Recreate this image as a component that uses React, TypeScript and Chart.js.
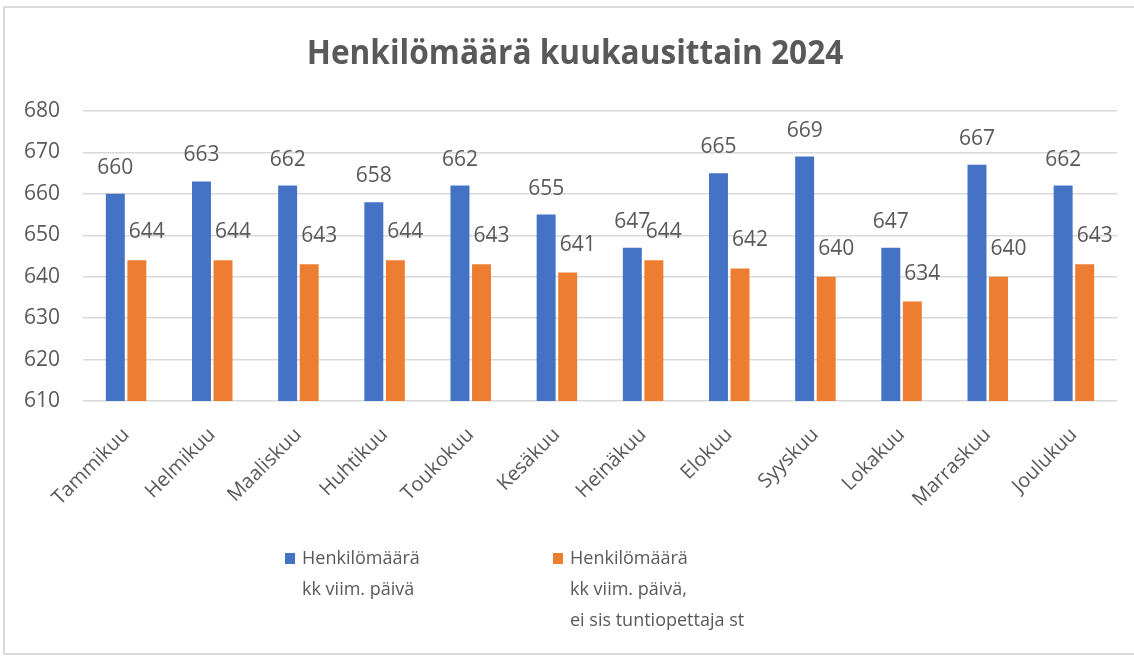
import React, { useEffect, useRef } from "react";
import { Chart, registerables } from "chart.js";

Chart.register(...registerables);

const chartTitle = "Henkilömäärä kuukausittain 2024";
const categories = [
  "Tammikuu", "Helmikuu", "Maaliskuu", "Huhtikuu", "Toukokuu", "Kesäkuu",
  "Heinäkuu", "Elokuu", "Syyskuu", "Lokakuu", "Marraskuu", "Joulukuu",
];
const staffTotal = [660, 663, 662, 658, 662, 655, 647, 665, 669, 647, 667, 662];
const staffExclHourly = [644, 644, 643, 644, 643, 641, 644, 642, 640, 634, 640, 643];
const seriesNames = [
  "Henkilömäärä kk viim. päivä",
  "Henkilömäärä kk viim. päivä, ei sis tuntiopettaja st",
];
const legendLines = [
  ["Henkilömäärä", "kk viim. päivä"],
  ["Henkilömäärä", "kk viim. päivä,", "ei sis tuntiopettaja st"],
];
const yMin = 610;
const yMax = 680;
const yStep = 10;

const BLUE = "#4472C4";
const ORANGE = "#ED7D31";
const TEXT = "#595959";
const FONT = "'Open Sans', 'DejaVu Sans', sans-serif";

const titlePlugin = {
  id: "customTitle",
  afterDraw(chart: any) {
    const ctx = chart.ctx;
    ctx.save();
    ctx.font = `bold 34px ${FONT}`;
    ctx.fillStyle = TEXT;
    ctx.textAlign = "center";
    ctx.textBaseline = "middle";
    ctx.translate(575, 54);
    ctx.scale(0.93, 1);
    ctx.fillText(chartTitle, 0, 0);
    ctx.restore();
  },
};

const labelPlugin = {
  id: "valueLabels",
  afterDatasetsDraw(chart: any) {
    const ctx = chart.ctx;
    const dx = [0, 10];
    const dy = [26, 28];
    ctx.save();
    ctx.font = `21px ${FONT}`;
    ctx.fillStyle = TEXT;
    ctx.textAlign = "center";
    ctx.textBaseline = "middle";
    chart.data.datasets.forEach((ds: any, i: number) => {
      const meta = chart.getDatasetMeta(i);
      meta.data.forEach((el: any, j: number) => {
        ctx.fillText(String(ds.data[j]), el.x + dx[i], el.y - dy[i]);
      });
    });
    ctx.restore();
  },
};

const legendPlugin = {
  id: "customLegend",
  afterDraw(chart: any) {
    const ctx = chart.ctx;
    const xs = [285, 553];
    const firstY = 559;
    const lineH = 31;
    ctx.save();
    ctx.font = `18px ${FONT}`;
    ctx.textAlign = "left";
    ctx.textBaseline = "middle";
    chart.data.datasets.forEach((ds: any, i: number) => {
      ctx.fillStyle = ds.backgroundColor;
      ctx.fillRect(xs[i], firstY - 6, 10, 11);
      ctx.fillStyle = TEXT;
      legendLines[i].forEach((line, k) => {
        ctx.fillText(line, xs[i] + 17, firstY + k * lineH);
      });
    });
    ctx.restore();
  },
};

export default function App() {
  const canvasRef = useRef<HTMLCanvasElement | null>(null);

  useEffect(() => {
    if (!canvasRef.current) return;
    const chart = new Chart(canvasRef.current, {
      type: "bar",
      data: {
        labels: categories,
        datasets: [
          {
            label: seriesNames[0],
            data: staffTotal,
            backgroundColor: BLUE,
            categoryPercentage: 0.5,
            barPercentage: 0.88,
          },
          {
            label: seriesNames[1],
            data: staffExclHourly,
            backgroundColor: ORANGE,
            categoryPercentage: 0.5,
            barPercentage: 0.88,
          },
        ],
      },
      options: {
        responsive: false,
        animation: false,
        devicePixelRatio: 1,
        layout: { padding: { top: 111, left: 8, right: 17, bottom: 126 } },
        plugins: {
          legend: { display: false },
          title: { display: false },
          tooltip: { enabled: false },
        },
        scales: {
          x: {
            grid: { display: false },
            border: { display: false },
            ticks: {
              minRotation: 45,
              maxRotation: 45,
              color: TEXT,
              font: { family: FONT, size: 20 },
              padding: 14,
            },
            afterFit: (s: any) => {
              s.height = 130;
            },
          },
          y: {
            min: yMin,
            max: yMax,
            ticks: {
              stepSize: yStep,
              color: TEXT,
              font: { family: FONT, size: 21 },
              padding: 23,
            },
            grid: { color: "#d9d9d9", lineWidth: 1.5, drawTicks: false },
            border: { display: false },
            afterFit: (s: any) => {
              s.width = 75;
            },
          },
        },
      },
      plugins: [titlePlugin, labelPlugin, legendPlugin],
    } as any);
    return () => chart.destroy();
  }, []);

  return (
    <div
      style={{
        position: "fixed",
        left: 0,
        top: 0,
        width: 1134,
        height: 657,
        background: "#fff",
        overflow: "hidden",
      }}
    >
      <div
        style={{
          position: "absolute",
          left: 3,
          top: 6,
          width: 1160,
          height: 649,
          boxSizing: "border-box",
          border: "2px solid #dadada",
        }}
      />
      <canvas
        ref={canvasRef}
        width={1134}
        height={657}
        style={{ position: "absolute", left: 0, top: 0, width: 1134, height: 657 }}
      />
    </div>
  );
}
